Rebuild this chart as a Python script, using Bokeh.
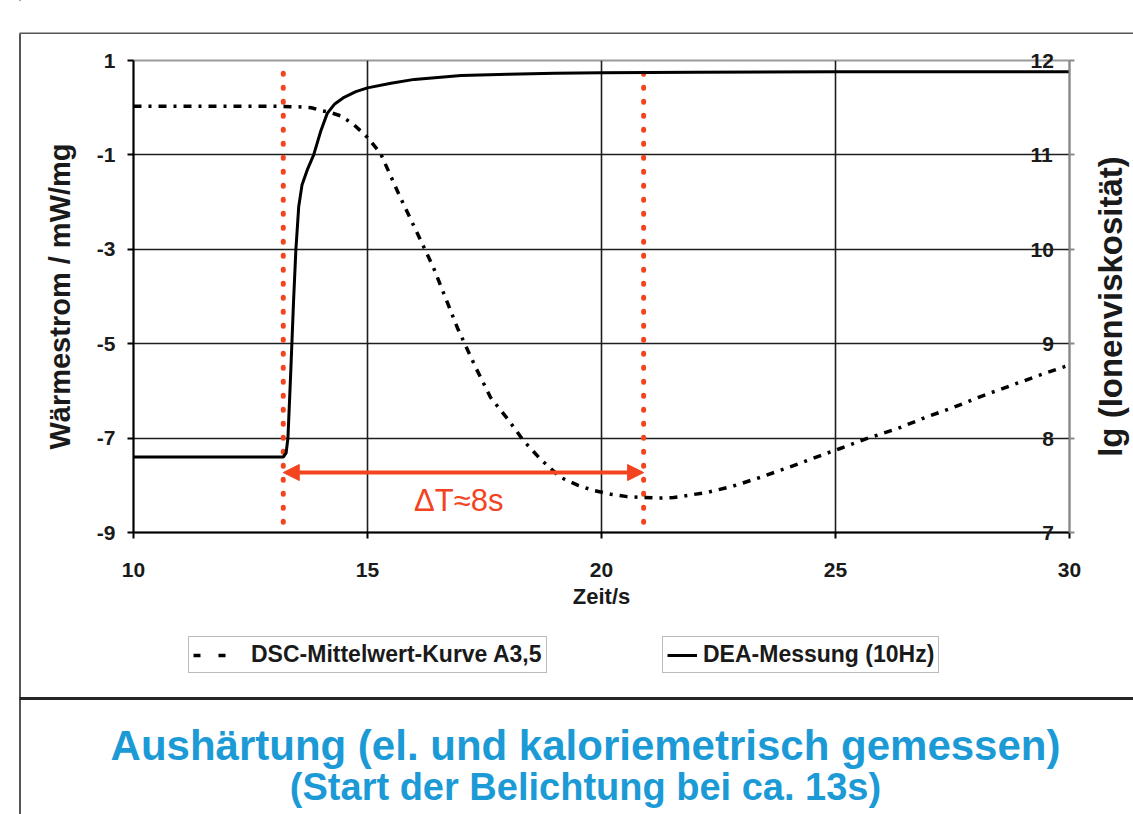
from bokeh.plotting import figure
from bokeh.layouts import column, row
from bokeh.models import (Range1d, LinearAxis, FixedTicker, Legend, LegendItem,
                          Label, Arrow, NormalHead)
from bokeh.embed import file_html
from bokeh.resources import INLINE

# DSC mean curve: heat flow in mW/mg over time in s (left axis)
t_dsc = [10.0, 11.0, 12.0, 13.0, 13.5, 13.8, 14.0, 14.2, 14.42, 14.7, 15.0, 15.28,
         15.7, 16.07, 16.41, 16.92, 17.3, 17.63, 18.0, 18.33, 18.7, 19.12, 19.5,
         19.83, 20.2, 20.55, 20.9, 21.2, 21.54, 22.26, 22.8, 23.4, 24.0, 24.68,
         25.1, 25.7, 26.32, 26.9, 27.52, 28.1, 28.74, 29.35, 30.0]
q_dsc = [0.03, 0.03, 0.03, 0.03, 0.02, 0.0, -0.06, -0.1, -0.17, -0.35, -0.63, -0.97,
         -1.9, -2.67, -3.39, -4.66, -5.48, -6.14, -6.6, -7.05, -7.45, -7.83, -8.0,
         -8.11, -8.19, -8.24, -8.26, -8.27, -8.26, -8.15, -8.02, -7.83, -7.62, -7.37,
         -7.22, -7.0, -6.8, -6.57, -6.35, -6.12, -5.89, -5.67, -5.45]

# DEA measurement at 10 Hz: lg(ion viscosity) over time in s (right axis)
t_dea = [10.0, 13.2, 13.26, 13.3, 13.36, 13.42, 13.47, 13.53, 13.6, 13.72, 13.85,
         14.0, 14.14, 14.3, 14.5, 14.75, 15.0, 15.5, 16.0, 17.0, 18.0, 19.0, 20.0,
         22.0, 25.0, 27.5, 30.0]
lg_dea = [7.80, 7.80, 7.84, 8.0, 8.7, 9.45, 10.0, 10.45, 10.68, 10.85, 11.0,
          11.25, 11.44, 11.54, 11.61, 11.67, 11.71, 11.76, 11.80, 11.84, 11.855,
          11.865, 11.87, 11.875, 11.88, 11.88, 11.88]

# start of exposure and time of the DSC minimum (s)
t_marks = [13.2, 20.9]

x_ticks = [10, 15, 20, 25, 30]
y_ticks = [-9, -7, -5, -3, -1, 1]
y2_ticks = [7, 8, 9, 10, 11, 12]

FONT = "Liberation Sans"
RED = "#f4431f"
BLUE = "#1b9ad6"
INK = "#1a1a1a"
RULE = "#555555"
DSC_STYLE = dict(line_color="black", line_width=3.5, line_dash="8 7 3 7")
DEA_STYLE = dict(line_color="black", line_width=3)


def blank(w, h, xr, yr, **kw):
    """Axis-free panel for the slide decor; data units equal page pixels."""
    opts = dict(background_fill_color="white", border_fill_color="white")
    opts.update(kw)
    b = figure(width=w, height=h, x_range=xr, y_range=yr, output_backend="svg",
               toolbar_location=None, x_axis_location=None, y_axis_location=None,
               outline_line_color=None, **opts)
    b.grid.visible = False
    return b


# ---------------- main chart ----------------
p = figure(width=1069, height=586, output_backend="svg", toolbar_location=None,
           x_range=Range1d(10, 30), y_range=Range1d(-9, 1),
           min_border_left=112, min_border_right=21, min_border_top=26,
           min_border_bottom=88, background_fill_color="white",
           border_fill_color="white")
p.extra_y_ranges = {"lg": Range1d(7, 12)}
p.outline_line_color = "#9a9a9a"
p.outline_line_width = 2

p.xgrid.ticker = FixedTicker(ticks=[15, 20, 25])
p.ygrid.ticker = FixedTicker(ticks=[-7, -5, -3, -1])
for g in (p.xgrid, p.ygrid):
    g.grid_line_color = "#1e1e1e"
    g.grid_line_width = 1.6


def style_axis(ax, color="black"):
    ax.axis_line_color = color
    ax.axis_line_width = 2
    ax.major_tick_line_color = color
    ax.major_tick_line_width = 2
    ax.major_tick_in = 0
    ax.minor_tick_line_color = None
    ax.major_label_text_font = FONT
    ax.major_label_text_font_style = "bold"
    ax.major_label_text_font_size = "21px"
    ax.major_label_text_color = INK
    ax.axis_label_text_font = FONT
    ax.axis_label_text_font_style = "bold"
    ax.axis_label_text_color = INK


xa = p.xaxis[0]
style_axis(xa)
xa.ticker = FixedTicker(ticks=x_ticks)
xa.major_tick_out = 6
xa.major_label_standoff = 24
xa.axis_label = "Zeit/s"
xa.axis_label_text_font_size = "22px"
xa.axis_label_standoff = 4

ya = p.yaxis[0]
style_axis(ya)
ya.ticker = FixedTicker(ticks=y_ticks)
ya.major_tick_out = 6
ya.major_label_standoff = 12
ya.major_label_overrides = {v: str(v) for v in y_ticks}
ya.axis_label = "Wärmestrom / mW/mg"
ya.axis_label_text_font_size = "29px"
ya.axis_label_standoff = 18

# secondary axis; its numbers are pulled inside the plot area, right-aligned
ra = LinearAxis(y_range_name="lg", ticker=FixedTicker(ticks=y2_ticks))
style_axis(ra, "#8a8a8a")
ra.major_tick_out = 5
ra.major_label_standoff = -44
ra.major_label_overrides = {v: f"{v:\u2007>2d}" for v in y2_ticks}
p.add_layout(ra, "right")

# red dotted markers
p.segment(x0=t_marks, y0=[0.73] * 2, x1=t_marks, y1=[-9] * 2,
          line_color=RED, line_width=5, line_dash="1 13", line_cap="round")

# curves
p.line(t_dsc, q_dsc, **DSC_STYLE)
p.line(t_dea, lg_dea, y_range_name="lg", **DEA_STYLE)

# double arrow between the markers and its label
head = dict(size=16, fill_color=RED, line_color=RED)
p.add_layout(Arrow(x_start=t_marks[0], y_start=-7.73, x_end=t_marks[1], y_end=-7.73,
                   line_color=RED, line_width=4,
                   start=NormalHead(**head), end=NormalHead(**head)))
dt = round(t_marks[1] - t_marks[0])
p.add_layout(Label(x=sum(t_marks) / 2 - 0.1, y=-8.32, text=f"\u0394T\u2248{dt}s",
                   text_align="center", text_baseline="middle",
                   text_font=FONT, text_font_size="31px", text_color=RED))

# ---------------- slide decor ----------------
# top rule of the slide frame
top = blank(1133, 34, Range1d(0, 1133), Range1d(34, 0), min_border=0)
top.segment(x0=[19, 20], y0=[33, 33], x1=[1133, 20], y1=[33, 34],
            line_color=RULE, line_width=2)

# transparent strip; the left frame rule is painted by the page container
left = blank(21, 586, Range1d(0, 21), Range1d(620, 34), min_border=0,
             background_fill_color=None, border_fill_color=None)

# right-axis title, reading upwards
side = blank(43, 586, Range1d(1090, 1133), Range1d(532, 60),
             min_border_left=0, min_border_right=0, min_border_top=26,
             min_border_bottom=88)
side.add_layout(Label(x=1110, y=306, text="lg (Ionenviskosität)", angle=90,
                      angle_units="deg", text_align="center", text_baseline="middle",
                      text_font=FONT, text_font_style="bold", text_font_size="33px",
                      text_color=INK))

# legend boxes, separator rule and caption
bottom = blank(1133, 194, Range1d(0, 1133), Range1d(814, 620), min_border=0,
               background_fill_color=None, border_fill_color=None)
bottom.segment(x0=[19], y0=[698], x1=[1133], y1=[698], line_color="#262626",
               line_width=3)

# legend entries (the curves themselves lie off this panel)
leg_dsc = bottom.line(t_dsc, q_dsc, line_color="black", line_width=3.5, line_dash="7 18")
leg_dea = bottom.line(t_dea, lg_dea, **DEA_STYLE)


def make_legend(label, r, x, y, glyph_width, standoff):
    lg = Legend(items=[LegendItem(label=label, renderers=[r])], location=(x, y),
                orientation="horizontal", border_line_color="#777777",
                border_line_width=1.5, background_fill_color="white",
                background_fill_alpha=1, padding=4, margin=0,
                glyph_width=glyph_width, label_standoff=standoff,
                label_text_font=FONT, label_text_font_style="bold",
                label_text_font_size="23px", label_text_color=INK)
    bottom.add_layout(lg)


make_legend("DSC-Mittelwert-Kurve A3,5", leg_dsc, 188, 141, 44, 14)
make_legend("DEA-Messung (10Hz)", leg_dea, 662, 141, 30, 6)

bottom.add_layout(Label(x=585, y=745, text="Aushärtung (el. und kaloriemetrisch gemessen)",
                        text_align="center", text_baseline="alphabetic",
                        text_font=FONT, text_font_style="bold", text_font_size="42px",
                        text_color=BLUE))
bottom.add_layout(Label(x=585, y=786, text="(Start der Belichtung bei ca. 13s)",
                        text_align="center", text_baseline="alphabetic",
                        text_font=FONT, text_font_style="bold", text_font_size="38px",
                        text_color=BLUE))

page = column(top, row(left, p, side), bottom,
              styles={"background": f"linear-gradient(to right, #ffffff 19px, "
                                    f"{RULE} 19px, {RULE} 21px, #ffffff 21px)"})
open("out.html", "w").write(file_html(page, INLINE))
